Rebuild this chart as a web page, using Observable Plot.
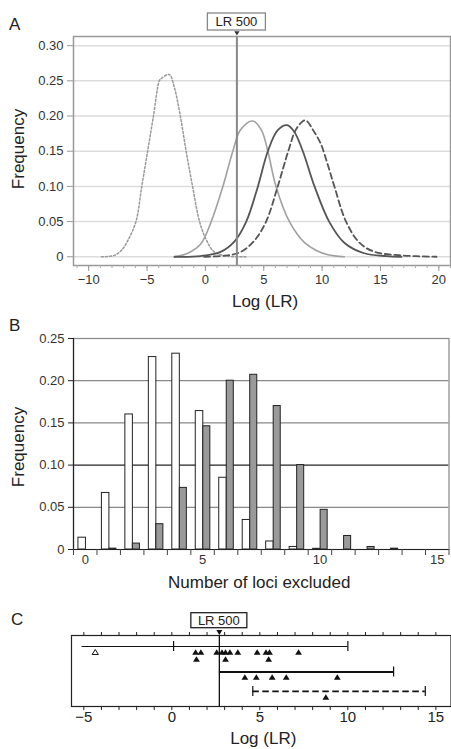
<!DOCTYPE html>
<html><head><meta charset="utf-8">
<script src="https://cdn.jsdelivr.net/npm/d3@7"></script>
<script src="https://cdn.jsdelivr.net/npm/@observablehq/plot@0.6"></script>
<style>
body{margin:0;background:#fff;}
#wrap{position:relative;width:451px;height:749px;font-family:"Liberation Sans",Arial,sans-serif;background:#fff;overflow:hidden;}
.panel{position:absolute;left:0;}
.lab{position:absolute;font-size:17px;color:#222;line-height:1;}
</style></head><body><div id="wrap"></div>
<script>
// ---------- Data ----------
const lr500 = Math.log10(500);

// Panel A: frequency curves of Log(LR)
const dottedX = [-8.9,-7.8,-7.2,-6.65,-5.95,-5.45,-4.95,-4.45,-3.95,-3.8,-3.1,-2.65,-2.15,-1.65,-1.1,-0.5,0.05,0.75,1.9,3.6];
const dottedY = [0,0.002,0.009,0.023,0.05,0.10,0.15,0.20,0.25,0.253,0.259,0.24,0.20,0.15,0.10,0.05,0.025,0.007,0.001,0];
const graySolidX = [-2.65,-1.5,-0.4,0.5,1.5,2.35,3.0,4.05,4.8,5.35,6.05,7.2,8.5,9.5,10.5,11.9];
const graySolidY = [0,0.005,0.018,0.05,0.10,0.15,0.18,0.193,0.18,0.15,0.10,0.05,0.02,0.009,0.003,0];
const darkSolidX = [-2.65,-0.4,1.3,2.5,3.5,4.5,5.35,6.2,7.0,7.6,8.35,9.35,10.6,11.9,13.6,15.5,16.8];
const darkSolidY = [0,0.001,0.007,0.022,0.05,0.10,0.15,0.18,0.187,0.178,0.15,0.10,0.05,0.02,0.005,0.001,0];
const dashedX = [-0.1,1.9,3.05,4.2,5.2,6.2,7.1,7.8,8.55,9.3,9.9,10.5,11.05,12.05,13.2,14.5,16.8,19.8];
const dashedY = [0,0.002,0.007,0.023,0.05,0.10,0.15,0.182,0.194,0.178,0.16,0.13,0.10,0.05,0.02,0.007,0.002,0];
const freqTicksA = [0,0.05,0.10,0.15,0.20,0.25,0.30];
const logTicksA = [-10,-5,0,5,10,15,20];

// Panel B: number of loci excluded
const lociExcluded = [0,1,2,3,4,5,6,7,8,9,10,11,12,13,14,15];
const freqWhite = [0.014,0.067,0.160,0.228,0.232,0.164,0.085,0.035,0.0095,0.003,0.0008,0,0,0,0,0];
const freqGray  = [0,0.001,0.007,0.030,0.073,0.146,0.200,0.207,0.170,0.100,0.047,0.016,0.003,0.001,0,0];
const freqTicksB = [0,0.05,0.10,0.15,0.20,0.25];
const lociTicksB = [0,5,10,15];

// Panel C: individual cases
const row1Filled = [1.35,1.65,2.55,2.85,3.05,3.3,3.75,4.85,5.35,5.55,7.2];
const row1FilledLower = [1.4,3.05,5.5];
const row1Open = [-4.35];
const row2Filled = [4.15,4.8,5.7,6.5,9.4];
const row3Filled = [8.75];
const rangeRows = [1,2,3];
const rangeLo = [-5.1, lr500, 4.6];
const rangeHi = [10.0, 12.6, 14.4];
const rangeCaps = [[0.1,10.0],[12.6],[4.6,14.4]];
const logTicksC = [-5,0,5,10,15];

// ---------- Helpers ----------
const FONT = '"Liberation Sans", Arial, sans-serif';
const wrap = document.getElementById("wrap");
const fmt = d => d === 0 ? "0" : d.toFixed(2);
const toPts = (xs, ys) => xs.map((x, i) => ({x, y: ys[i]}));
const triUp = {draw(c, size){ const r = Math.sqrt(size/Math.PI); const h = 1.6*r; c.moveTo(0,-h*0.6); c.lineTo(r,h*0.4); c.lineTo(-r,h*0.4); c.closePath(); }};
const triDown = {draw(c, size){ const r = Math.sqrt(size/Math.PI); const h = 1.6*r; c.moveTo(0,h*0.6); c.lineTo(r,-h*0.4); c.lineTo(-r,-h*0.4); c.closePath(); }};
function place(svg, top){ svg.classList.add("panel"); svg.style.top = top + "px"; wrap.appendChild(svg); }
function label(txt, left, top){ const d = document.createElement("div"); d.className = "lab"; d.textContent = txt; d.style.left = left+"px"; d.style.top = top+"px"; wrap.appendChild(d); }
function lrBox(plot, y, w, h, stroke){
  const px = plot.scale("x").apply(lr500);
  const g = d3.select(plot).append("g");
  g.append("rect").attr("x", px - w/2).attr("y", y).attr("width", w).attr("height", h)
    .attr("fill", "#fff").attr("stroke", stroke).attr("stroke-width", 1.3);
  g.append("text").attr("x", px).attr("y", y + h/2).attr("dy", "0.36em").attr("text-anchor", "middle")
    .attr("font-size", 13).attr("font-family", FONT).attr("fill", "#222").text("LR 500");
}
const yTitle = (t, dy) => Plot.text([t], {frameAnchor: "left", dx: -55, dy, rotate: -90, textAnchor: "middle", lineAnchor: "middle", fontSize: 17, fill: "#222"});
const xTitle = (t, dx, dy) => Plot.text([t], {frameAnchor: "bottom", dx, dy, textAnchor: "middle", lineAnchor: "middle", fontSize: 17, fill: "#222"});

// ---------- Panel A ----------
const minorA = d3.range(-11, 22, 1);
const A = Plot.plot({
  width: 451, height: 310,
  marginLeft: 73, marginRight: 1, marginTop: 36, marginBottom: 45,
  style: {fontFamily: FONT, fontSize: "13px", color: "#333", background: "transparent", overflow: "visible"},
  x: {domain: [-11.3, 21]},
  y: {domain: [-0.0124, 0.313]},
  marks: [
    Plot.ruleY(freqTicksA, {stroke: "#ddd", strokeWidth: 1.5}),
    Plot.line(toPts(dottedX, dottedY), {x: "x", y: "y", stroke: "#999", strokeWidth: 1.5, strokeDasharray: "2,2", curve: "catmull-rom"}),
    Plot.line(toPts(graySolidX, graySolidY), {x: "x", y: "y", stroke: "#a0a0a0", strokeWidth: 1.6, curve: "catmull-rom"}),
    Plot.line(toPts(darkSolidX, darkSolidY), {x: "x", y: "y", stroke: "#555", strokeWidth: 1.8, curve: "catmull-rom"}),
    Plot.line(toPts(dashedX, dashedY), {x: "x", y: "y", stroke: "#555", strokeWidth: 1.8, strokeDasharray: "6,3.5", curve: "catmull-rom"}),
    Plot.ruleX([lr500], {stroke: "#888", strokeWidth: 2}),
    Plot.frame({stroke: "#999", strokeWidth: 1.5}),
    Plot.dot([lr500], {x: d => d, frameAnchor: "top", dy: -3.5, symbol: triDown, r: 2.6, fill: "#333", stroke: "none"}),
    Plot.axisY({ticks: freqTicksA, tickFormat: fmt, tickSize: 6, tickPadding: 4, stroke: "#999", label: null}),
    Plot.axisX({ticks: minorA, tickFormat: () => "", tickSize: 3, stroke: "#aaa", label: null}),
    Plot.axisX({ticks: logTicksA, tickSize: 6, tickPadding: 3, stroke: "#999", label: null}),
    yTitle("Frequency", -2),
    xTitle("Log (LR)", 3, 36)
  ]
});
place(A, 0);
lrBox(A, 13, 58, 17, "#888");
label("A", 9, 16);

// ---------- Panel B ----------
const tableB = lociExcluded.map((k, i) => ({k, white: freqWhite[i], gray: freqGray[i]}));
const halfTicks = d3.range(-0.5, 15.6, 1);
const B = Plot.plot({
  width: 451, height: 290,
  marginLeft: 73, marginRight: 2.5, marginTop: 28, marginBottom: 51,
  style: {fontFamily: FONT, fontSize: "13px", color: "#333", background: "transparent", overflow: "visible"},
  x: {domain: [-0.5, 15.5]},
  y: {domain: [0, 0.25]},
  marks: [
    Plot.ruleY(freqTicksB.filter(d => d !== 0.10 && d !== 0), {stroke: "#888", strokeWidth: 1.2}),
    Plot.ruleY([0.10], {stroke: "#222", strokeWidth: 1.2}),
    Plot.rectY(tableB.filter(d => d.white > 0), {x1: d => d.k - 0.29, x2: d => d.k + 0.03, y: "white", fill: "#fff", stroke: "#222", strokeWidth: 1}),
    Plot.rectY(tableB.filter(d => d.gray > 0), {x1: d => d.k + 0.03, x2: d => d.k + 0.33, y: "gray", fill: "#9a9a9a", stroke: "#222", strokeWidth: 1}),
    Plot.frame({stroke: "#888", strokeWidth: 1.2}),
    Plot.ruleY([0], {stroke: "#222", strokeWidth: 1.2}),
    Plot.frame({anchor: "left", stroke: "#222", strokeWidth: 1.2}),
    Plot.axisY({ticks: freqTicksB, tickFormat: fmt, tickSize: 5, tickPadding: 4, stroke: "#222", label: null}),
    Plot.axisX({ticks: halfTicks, tickFormat: () => "", tickSize: 6, stroke: "#444", label: null}),
    Plot.axisX({ticks: lociTicksB, tickSize: 0, tickPadding: 5, label: null}),
    yTitle("Frequency", 3),
    xTitle("Number of loci excluded", -2, 33)
  ]
});
place(B, 310);
label("B", 9, 317);

// ---------- Panel C ----------
const rangesC = rangeRows.map((row, i) => ({row, lo: rangeLo[i], hi: rangeHi[i]}));
const capsC = rangeRows.flatMap((row, i) => rangeCaps[i].map(x => ({row, x})));
const rowShift = {1: 0, 2: 3.5, 3: 1};
const C = Plot.plot({
  width: 451, height: 149,
  marginLeft: 71, marginRight: 0.5, marginTop: 35, marginBottom: 43,
  style: {fontFamily: FONT, fontSize: "15px", color: "#222", background: "transparent", overflow: "visible"},
  x: {domain: [-5.7, 15.86]},
  y: {domain: [0.5, 3.73], reverse: true, axis: null},
  marks: [
    Plot.frame({stroke: "#222", strokeWidth: 1.2}),
    Plot.ruleX([lr500], {stroke: "#111", strokeWidth: 1.3}),
    Plot.ruleY(rangesC.filter(d => d.row === 1), {y: "row", x1: "lo", x2: "hi", stroke: "#111", strokeWidth: 1.2}),
    Plot.ruleY(rangesC.filter(d => d.row === 2), {y: "row", x1: "lo", x2: "hi", dy: rowShift[2], stroke: "#111", strokeWidth: 2}),
    Plot.ruleY(rangesC.filter(d => d.row === 3), {y: "row", x1: "lo", x2: "hi", dy: rowShift[3], stroke: "#111", strokeWidth: 1.8, strokeDasharray: "6.5,3.5"}),
    ...rangeRows.map(r => Plot.ruleX(capsC.filter(d => d.row === r), {x: "x", y1: "row", y2: "row", insetTop: -5, insetBottom: -5, dy: rowShift[r], stroke: "#111", strokeWidth: 1.2})),
    Plot.dot(row1Filled, {x: d => d, y: () => 1, dy: 6, symbol: triUp, r: 3.4, fill: "#111", stroke: "none"}),
    Plot.dot(row1FilledLower, {x: d => d, y: () => 1, dy: 13, symbol: triUp, r: 3.4, fill: "#111", stroke: "none"}),
    Plot.dot(row1Open, {x: d => d, y: () => 1, dy: 6, symbol: triUp, r: 3.1, fill: "#fff", stroke: "#111", strokeWidth: 1}),
    Plot.dot(row2Filled, {x: d => d, y: () => 2, dy: rowShift[2] + 5.5, symbol: triUp, r: 3.4, fill: "#111", stroke: "none"}),
    Plot.dot(row3Filled, {x: d => d, y: () => 3, dy: rowShift[3] + 6, symbol: triUp, r: 3.4, fill: "#111", stroke: "none"}),
    Plot.dot([lr500], {x: d => d, frameAnchor: "top", dy: -3.5, symbol: triDown, r: 3, fill: "#111", stroke: "none"}),
    Plot.axisX({anchor: "top", ticks: d3.range(-5, 16, 1), tickFormat: () => "", tickSize: 4, stroke: "#222", label: null}),
    Plot.axisX({anchor: "bottom", ticks: d3.range(-5, 16, 1), tickFormat: () => "", tickSize: 4, stroke: "#222", label: null}),
    Plot.axisX({anchor: "bottom", ticks: logTicksC, tickSize: 0, tickPadding: 5, label: null}),
    xTitle("Log (LR)", 2, 32)
  ]
});
place(C, 600);
lrBox(C, 612.7 - 600, 56, 15, "#222");
label("C", 11, 611);
</script>
</body></html>
